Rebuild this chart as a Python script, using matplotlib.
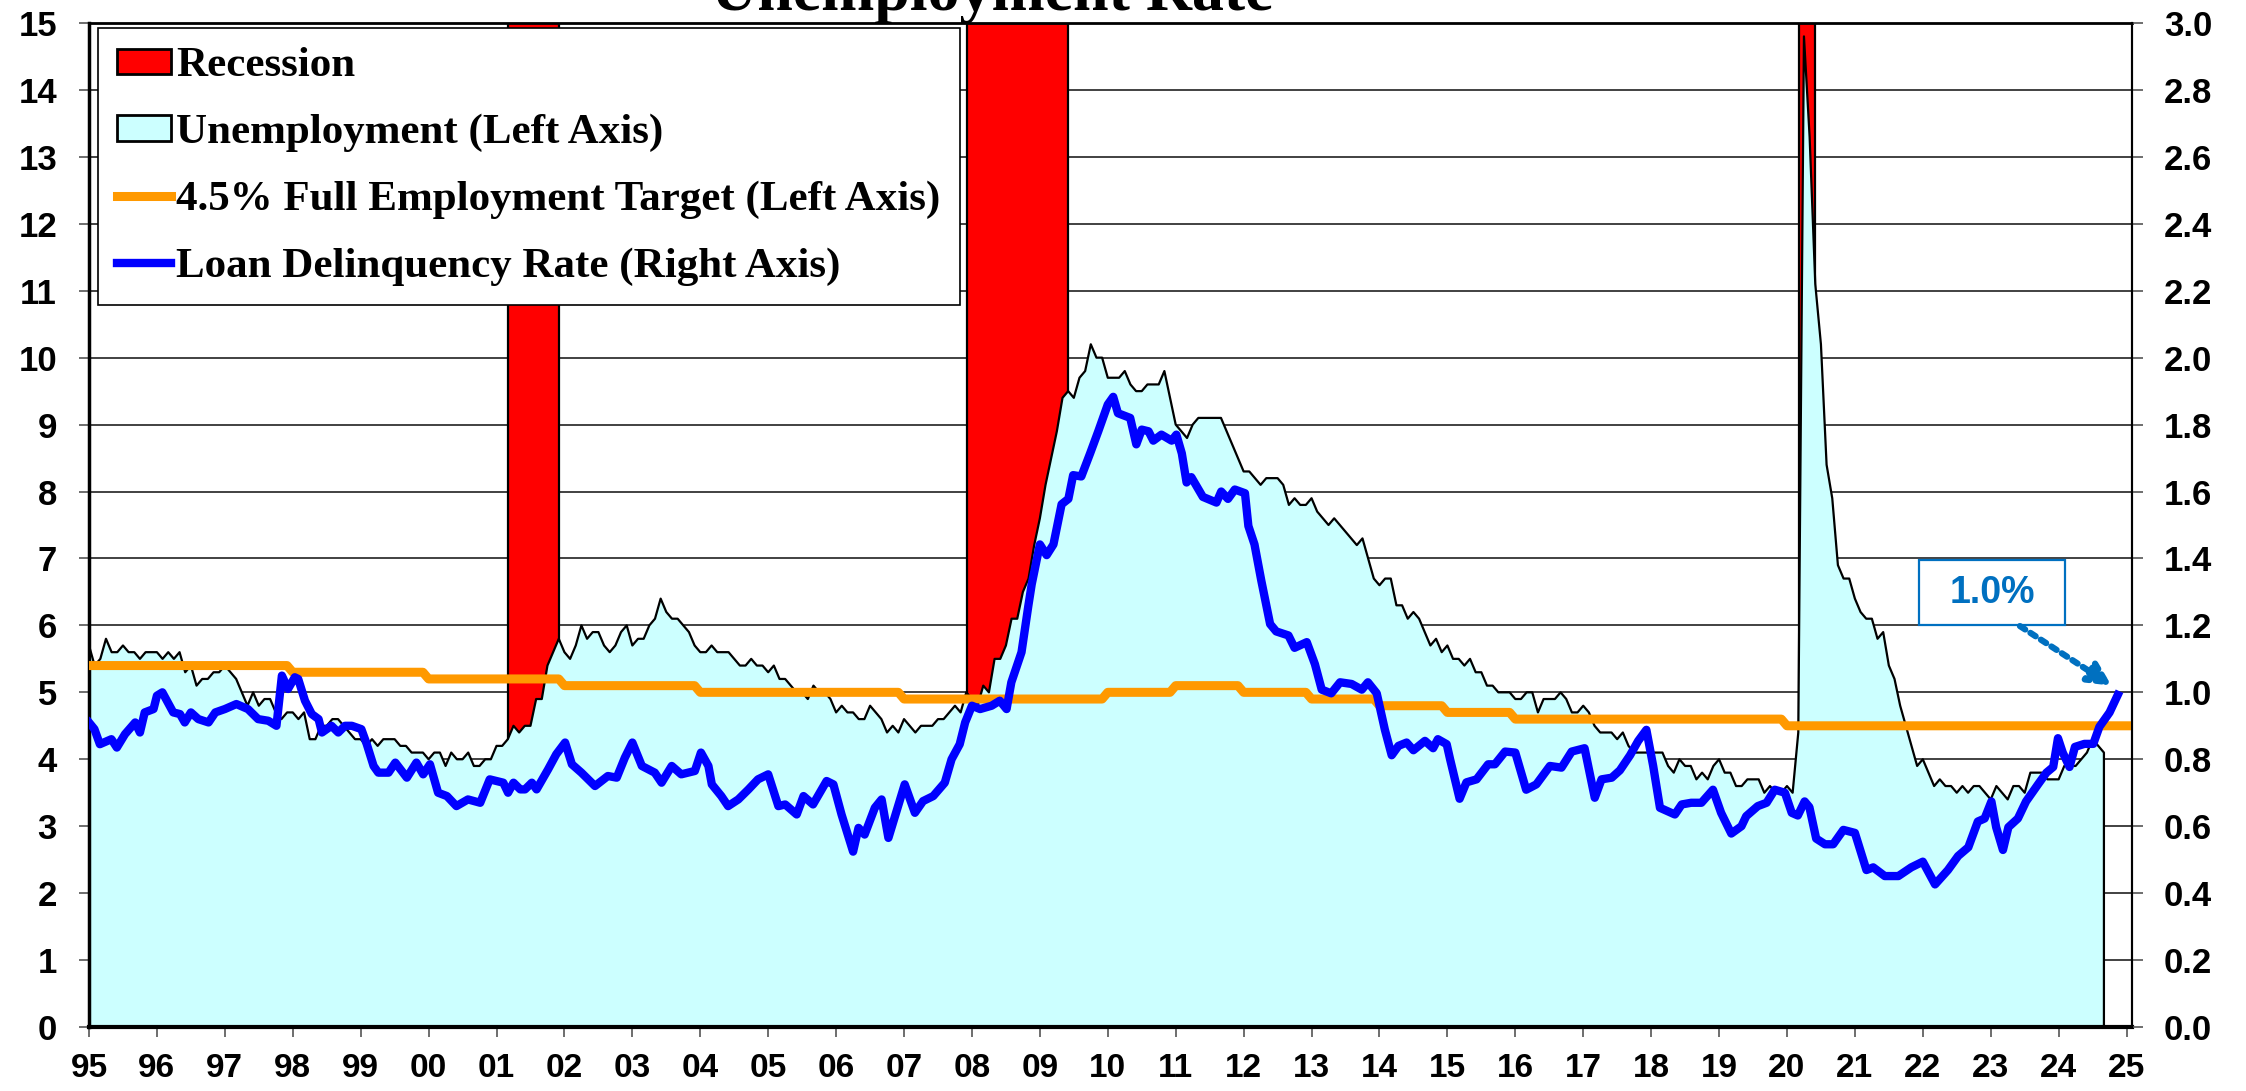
import numpy as np
import matplotlib
matplotlib.use("Agg")
import matplotlib.pyplot as plt
from matplotlib.patches import Patch, Rectangle
from matplotlib.lines import Line2D

# monthly unemployment rate (%), Jan 1995 .. Sep 2024
unemployment = [
    5.7, 5.4, 5.5, 5.8, 5.6, 5.6, 5.7, 5.6, 5.6, 5.5, 5.6, 5.6,   # 95
    5.6, 5.5, 5.6, 5.5, 5.6, 5.3, 5.4, 5.1, 5.2, 5.2, 5.3, 5.3,   # 96
    5.4, 5.3, 5.2, 5.0, 4.8, 5.0, 4.8, 4.9, 4.9, 4.7, 4.6, 4.7,   # 97
    4.7, 4.6, 4.7, 4.3, 4.3, 4.5, 4.5, 4.6, 4.6, 4.5, 4.4, 4.3,   # 98
    4.3, 4.2, 4.3, 4.2, 4.3, 4.3, 4.3, 4.2, 4.2, 4.1, 4.1, 4.1,   # 99
    4.0, 4.1, 4.1, 3.9, 4.1, 4.0, 4.0, 4.1, 3.9, 3.9, 4.0, 4.0,   # 00
    4.2, 4.2, 4.3, 4.5, 4.4, 4.5, 4.5, 4.9, 4.9, 5.4, 5.6, 5.8,   # 01
    5.6, 5.5, 5.7, 6.0, 5.8, 5.9, 5.9, 5.7, 5.6, 5.7, 5.9, 6.0,   # 02
    5.7, 5.8, 5.8, 6.0, 6.1, 6.4, 6.2, 6.1, 6.1, 6.0, 5.9, 5.7,   # 03
    5.6, 5.6, 5.7, 5.6, 5.6, 5.6, 5.5, 5.4, 5.4, 5.5, 5.4, 5.4,   # 04
    5.3, 5.4, 5.2, 5.2, 5.1, 5.0, 5.0, 4.9, 5.1, 5.0, 5.0, 4.9,   # 05
    4.7, 4.8, 4.7, 4.7, 4.6, 4.6, 4.8, 4.7, 4.6, 4.4, 4.5, 4.4,   # 06
    4.6, 4.5, 4.4, 4.5, 4.5, 4.5, 4.6, 4.6, 4.7, 4.8, 4.7, 5.0,   # 07
    4.9, 4.8, 5.1, 5.0, 5.5, 5.5, 5.7, 6.1, 6.1, 6.5, 6.7, 7.2,   # 08
    7.6, 8.1, 8.5, 8.9, 9.4, 9.5, 9.4, 9.7, 9.8, 10.2, 10.0, 10.0,  # 09
    9.7, 9.7, 9.7, 9.8, 9.6, 9.5, 9.5, 9.6, 9.6, 9.6, 9.8, 9.4,   # 10
    9.0, 8.9, 8.8, 9.0, 9.1, 9.1, 9.1, 9.1, 9.1, 8.9, 8.7, 8.5,   # 11
    8.3, 8.3, 8.2, 8.1, 8.2, 8.2, 8.2, 8.1, 7.8, 7.9, 7.8, 7.8,   # 12
    7.9, 7.7, 7.6, 7.5, 7.6, 7.5, 7.4, 7.3, 7.2, 7.3, 7.0, 6.7,   # 13
    6.6, 6.7, 6.7, 6.3, 6.3, 6.1, 6.2, 6.1, 5.9, 5.7, 5.8, 5.6,   # 14
    5.7, 5.5, 5.5, 5.4, 5.5, 5.3, 5.3, 5.1, 5.1, 5.0, 5.0, 5.0,   # 15
    4.9, 4.9, 5.0, 5.0, 4.7, 4.9, 4.9, 4.9, 5.0, 4.9, 4.7, 4.7,   # 16
    4.8, 4.7, 4.5, 4.4, 4.4, 4.4, 4.3, 4.4, 4.2, 4.1, 4.1, 4.1,   # 17
    4.1, 4.1, 4.1, 3.9, 3.8, 4.0, 3.9, 3.9, 3.7, 3.8, 3.7, 3.9,   # 18
    4.0, 3.8, 3.8, 3.6, 3.6, 3.7, 3.7, 3.7, 3.5, 3.6, 3.5, 3.5,   # 19
    3.6, 3.5, 4.4, 14.8, 13.3, 11.1, 10.2, 8.4, 7.9, 6.9, 6.7, 6.7,  # 20
    6.4, 6.2, 6.1, 6.1, 5.8, 5.9, 5.4, 5.2, 4.8, 4.5, 4.2, 3.9,   # 21
    4.0, 3.8, 3.6, 3.7, 3.6, 3.6, 3.5, 3.6, 3.5, 3.6, 3.6, 3.5,   # 22
    3.4, 3.6, 3.5, 3.4, 3.6, 3.6, 3.5, 3.8, 3.8, 3.8, 3.7, 3.7,   # 23
    3.7, 3.9, 3.9, 3.9, 4.0, 4.1, 4.3, 4.2, 4.1,                  # 24
]

recessions = [(2001.17, 2001.92), (2007.92, 2009.42), (2020.17, 2020.42)]

# full employment target, level from each start year on
target_years = [1995, 1998, 2000, 2002, 2004, 2007, 2010, 2011, 2012, 2013, 2014, 2015, 2016, 2020]
target_levels = [5.4, 5.3, 5.2, 5.1, 5.0, 4.9, 5.0, 5.1, 5.0, 4.9, 4.8, 4.7, 4.6, 4.5]

# loan delinquency rate (%), right axis
delinq_dates = [
    1995.00, 1995.08, 1995.16, 1995.33, 1995.41, 1995.53, 1995.68, 1995.75, 1995.82, 1995.95,
    1996.00, 1996.08, 1996.24, 1996.34, 1996.41, 1996.50, 1996.61, 1996.76, 1996.86,
    1997.00, 1997.17, 1997.34, 1997.49, 1997.64, 1997.76, 1997.84, 1997.93,
    1998.03, 1998.08, 1998.18, 1998.28, 1998.38, 1998.43, 1998.57, 1998.67, 1998.77, 1998.87,
    1999.01, 1999.09, 1999.19, 1999.26, 1999.41, 1999.51, 1999.68, 1999.82, 1999.92,
    2000.02, 2000.14, 2000.27, 2000.41, 2000.58, 2000.76, 2000.90,
    2001.10, 2001.17, 2001.25, 2001.35, 2001.42, 2001.52, 2001.59, 2001.76, 2001.88,
    2002.01, 2002.11, 2002.25, 2002.45, 2002.64, 2002.77, 2002.89,
    2003.00, 2003.14, 2003.33, 2003.43, 2003.58, 2003.72, 2003.92,
    2004.01, 2004.12, 2004.17, 2004.31, 2004.41, 2004.56, 2004.71, 2004.85,
    2005.00, 2005.15, 2005.25, 2005.42, 2005.52, 2005.66, 2005.86, 2005.96,
    2006.08, 2006.25, 2006.33, 2006.42, 2006.57, 2006.67, 2006.77,
    2007.01, 2007.16, 2007.28, 2007.43, 2007.60, 2007.70, 2007.82, 2007.90,
    2008.00, 2008.12, 2008.29, 2008.41, 2008.51, 2008.58, 2008.73, 2008.83, 2008.88,
    2009.00, 2009.10, 2009.20, 2009.32, 2009.42, 2009.49, 2009.61, 2009.74, 2009.86,
    2010.00, 2010.08, 2010.15, 2010.33, 2010.42, 2010.50, 2010.60, 2010.67, 2010.79, 2010.94,
    2011.01, 2011.09, 2011.16, 2011.23, 2011.40, 2011.60, 2011.67, 2011.77, 2011.87,
    2012.02, 2012.07, 2012.16, 2012.26, 2012.39, 2012.48, 2012.66, 2012.75, 2012.93,
    2013.05, 2013.15, 2013.29, 2013.42, 2013.59, 2013.74, 2013.83, 2013.96,
    2014.08, 2014.18, 2014.28, 2014.40, 2014.50, 2014.67, 2014.79, 2014.86, 2014.99,
    2015.04, 2015.18, 2015.28, 2015.43, 2015.60, 2015.70, 2015.85,
    2016.00, 2016.16, 2016.31, 2016.51, 2016.68, 2016.83,
    2017.02, 2017.17, 2017.27, 2017.42, 2017.54, 2017.69, 2017.81, 2017.93,
    2018.03, 2018.13, 2018.35, 2018.45, 2018.59, 2018.74, 2018.91,
    2019.03, 2019.18, 2019.33, 2019.40, 2019.57, 2019.70, 2019.82, 2019.97,
    2020.07, 2020.16, 2020.26, 2020.33, 2020.43, 2020.56, 2020.68, 2020.83,
    2021.00, 2021.17, 2021.27, 2021.44, 2021.64, 2021.83,
    2022.00, 2022.18, 2022.37, 2022.52, 2022.67, 2022.81, 2022.91,
    2023.01, 2023.08, 2023.18, 2023.26, 2023.40, 2023.52, 2023.70, 2023.82, 2023.92, 2023.99,
    2024.06, 2024.16, 2024.24, 2024.38, 2024.51, 2024.60, 2024.75, 2024.87,
]
delinq_rate = [
    0.91, 0.89, 0.845, 0.86, 0.835, 0.875, 0.91, 0.88, 0.94, 0.95,
    0.99, 1.00, 0.94, 0.935, 0.91, 0.94, 0.92, 0.91, 0.94,
    0.95, 0.965, 0.95, 0.92, 0.915, 0.90, 1.05, 1.01,
    1.045, 1.04, 0.975, 0.935, 0.92, 0.88, 0.90, 0.88, 0.90, 0.90,
    0.89, 0.845, 0.78, 0.76, 0.76, 0.79, 0.745, 0.79, 0.755,
    0.785, 0.70, 0.69, 0.66, 0.68, 0.67, 0.74,
    0.73, 0.70, 0.73, 0.71, 0.71, 0.73, 0.71, 0.77, 0.815,
    0.85, 0.785, 0.76, 0.72, 0.75, 0.745, 0.805,
    0.85, 0.78, 0.76, 0.73, 0.78, 0.755, 0.765,
    0.82, 0.78, 0.725, 0.69, 0.66, 0.68, 0.71, 0.74,
    0.755, 0.66, 0.665, 0.635, 0.69, 0.665, 0.735, 0.725,
    0.635, 0.524, 0.595, 0.575, 0.655, 0.68, 0.565,
    0.725, 0.64, 0.675, 0.69, 0.73, 0.80, 0.845, 0.91,
    0.96, 0.95, 0.96, 0.975, 0.95, 1.03, 1.12, 1.258, 1.323,
    1.442, 1.41, 1.442, 1.562, 1.578, 1.649, 1.645, 1.714, 1.78,
    1.86, 1.883, 1.834, 1.82, 1.741, 1.785, 1.78, 1.752, 1.77, 1.752,
    1.77, 1.714, 1.627, 1.643, 1.584, 1.567, 1.60, 1.578, 1.606,
    1.595, 1.497, 1.442, 1.334, 1.204, 1.182, 1.17, 1.133, 1.15,
    1.084, 1.008, 0.997, 1.03, 1.025, 1.008, 1.03, 0.997,
    0.888, 0.812, 0.84, 0.85, 0.827, 0.855, 0.833, 0.86, 0.845,
    0.80, 0.682, 0.731, 0.74, 0.785, 0.785, 0.823,
    0.82, 0.709, 0.725, 0.78, 0.775, 0.823,
    0.833, 0.685, 0.74, 0.745, 0.767, 0.812, 0.855, 0.888,
    0.78, 0.655, 0.635, 0.665, 0.67, 0.67, 0.709,
    0.64, 0.578, 0.60, 0.63, 0.66, 0.67, 0.709, 0.70,
    0.64, 0.632, 0.674, 0.657, 0.563, 0.546, 0.546, 0.589,
    0.58, 0.469, 0.477, 0.451, 0.451, 0.477,
    0.494, 0.426, 0.469, 0.511, 0.537, 0.614, 0.623,
    0.674, 0.597, 0.529, 0.597, 0.623, 0.674, 0.726, 0.76, 0.777, 0.863,
    0.82, 0.777, 0.837, 0.846, 0.846, 0.897, 0.94, 0.992,
]

year_ticks = list(range(1995, 2026))
year_labels = ["%02d" % (y % 100) for y in year_ticks]
left_ticks = list(range(0, 16))
right_ticks = [i / 5 for i in range(16)]

SANS = "Liberation Sans"
SERIF = "Liberation Serif"
CYAN = "#CCFFFF"
ORANGE = "#FF9900"
BLUE = "#0000FF"
NOTE = "#0070C0"

fig = plt.figure(figsize=(22.46, 10.91), dpi=100)
ax = fig.add_axes([89 / 2246, 1 - 1027 / 1091, (2132 - 89) / 2246, (1027 - 23) / 1091])
ax2 = ax.twinx()

months = 1995 + np.arange(len(unemployment)) / 12.0

# recession bars (under the unemployment area)
for start, end in recessions:
    ax.axvspan(start, end, facecolor="red", edgecolor="black", lw=1.6, zorder=1)

ax.fill_between(months, 0, unemployment, facecolor=CYAN, edgecolor="none", zorder=2)
ax.plot(list(months) + [months[-1]], unemployment + [0], color="black", lw=1.6, zorder=3)

t_months = 1995 + np.arange(30 * 12 + 2) / 12.0
idx = np.searchsorted(target_years, np.floor(t_months + 1e-9), side="right") - 1
t_vals = np.array(target_levels)[idx]
ax.plot(t_months, t_vals, color=ORANGE, lw=6.5, zorder=4)

ax2.plot(delinq_dates, delinq_rate, color=BLUE, lw=6, zorder=5, solid_joinstyle="round")

# axes
ax.set_xlim(1995, 2025.08)
ax.set_ylim(0, 15)
ax2.set_ylim(0, 3)
ax.set_xticks(year_ticks)
ax.set_xticklabels(year_labels)
ax.set_yticks(left_ticks)
ax.set_yticklabels([str(v) for v in left_ticks])
ax2.set_yticks(right_ticks)
ax2.set_yticklabels(["%.1f" % v for v in right_ticks])

ax.set_axisbelow(True)
ax.yaxis.grid(True, color="#333333", lw=1.3)

for lab in ax.get_xticklabels():
    lab.set_fontfamily(SANS)
    lab.set_fontweight("bold")
    lab.set_fontsize(24)
for lab in ax.get_yticklabels() + ax2.get_yticklabels():
    lab.set_fontfamily(SANS)
    lab.set_fontweight("bold")
    lab.set_fontsize(25)

ax.tick_params(axis="x", length=7, width=1.2, color="#555555", pad=12)
ax.tick_params(axis="y", length=7, width=1.2, color="#555555", pad=16)
ax2.tick_params(axis="y", length=8, width=1.2, color="#555555", pad=15)

for side, w in [("left", 2.5), ("bottom", 3), ("top", 2), ("right", 1.5)]:
    ax.spines[side].set_linewidth(w)
    ax.spines[side].set_color("black")
for side in ["left", "bottom", "top"]:
    ax2.spines[side].set_visible(False)
ax2.spines["right"].set_linewidth(1.5)

# title, mostly above the top edge of the picture
fig.text(992 / 2246, 1 - 10 / 1091, "Unemployment Rate", ha="center", va="baseline",
         fontsize=46, fontweight="bold", fontfamily=SERIF)

# legend
handles = [
    Patch(facecolor="red", edgecolor="black", lw=2),
    Patch(facecolor=CYAN, edgecolor="black", lw=2),
    Line2D([], [], color=ORANGE, lw=6.5),
    Line2D([], [], color=BLUE, lw=6),
]
labels = ["Recession", "Unemployment (Left Axis)",
          "4.5% Full Employment Target (Left Axis)", "Loan Delinquency Rate (Right Axis)"]
leg = ax2.legend(handles, labels, loc="upper left", bbox_to_anchor=(0.0044, 0.995),
                 borderaxespad=0, prop={"family": SERIF, "weight": "bold", "size": 31},
                 handlelength=1.25, handleheight=0.52, handletextpad=0.12,
                 labelspacing=0.66, borderpad=0.45, fancybox=False, framealpha=1,
                 edgecolor="black")
leg.get_frame().set_linewidth(1.2)
leg.set_zorder(10)

# callout for the latest delinquency reading
ax2.add_patch(Rectangle((2021.94, 1.202), 2.16, 0.194, facecolor="white",
                        edgecolor=NOTE, lw=1.6, zorder=6))
ax2.text(2023.02, 1.296, "1.0%", ha="center", va="center", color=NOTE,
         fontsize=27, fontweight="bold", fontfamily=SANS, zorder=7)
ax2.annotate("", xy=(2024.78, 1.02), xytext=(2023.43, 1.198),
             arrowprops=dict(arrowstyle="-|>", color=NOTE, lw=4.5, linestyle=(0, (1, 1)),
                             mutation_scale=34, shrinkA=0, shrinkB=0), zorder=7)

fig.savefig("out.png", dpi=100)
